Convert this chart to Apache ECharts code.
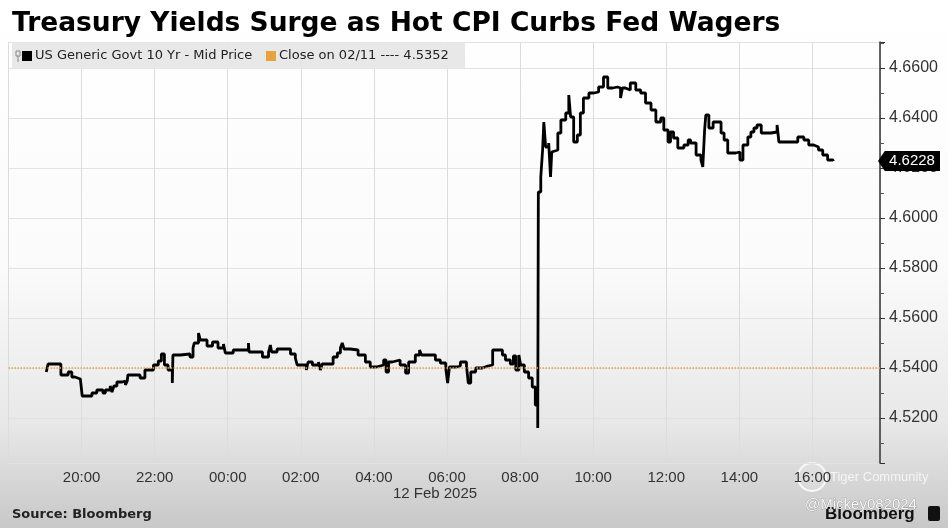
<!DOCTYPE html>
<html><head><meta charset="utf-8">
<script src="https://cdn.jsdelivr.net/npm/echarts@6/dist/echarts.min.js"></script>
<style>html,body{margin:0;padding:0;background:#fff;}#c{width:948px;height:528px;}</style>
</head><body><div id="c"></div>
<script>
// ---- data ----
const titleText = 'Treasury Yields Surge as Hot CPI Curbs Fed Wagers';
const seriesName = 'US Generic Govt 10 Yr - Mid Price';
const closeLabel = 'Close on 02/11 ---- 4.5352';
const closePrev = 4.5352;
const dateLabel = '12 Feb 2025';
const sourceText = 'Source: Bloomberg';
// times: evening of 11 Feb (>= 18:00) then 12 Feb
const times = ['19:02','19:05','19:26','19:38','19:44','19:49','19:58','20:01','20:17','20:25','20:35','20:39','20:47','20:50','20:53','20:58','21:07','21:12','21:15','21:16','21:36','21:44','21:58','22:06','22:11','22:16','22:22','22:29','22:30','22:42','22:58','23:03','23:05','23:12','23:15','23:26','23:35','23:44','23:53','23:56',
'00:09','00:34','00:35','00:57','01:07','01:10','01:12','01:21','01:43','01:51','01:54','02:09','02:12','02:19','02:29','02:32','02:35','02:53','03:00','03:05','03:08','03:11','03:21','03:34','03:46','03:54','04:04','04:16','04:20','04:24','04:30','04:43','04:52','04:57','05:08','05:15','05:18','05:41','05:49','05:58','06:01','06:04','06:16','06:22','06:32','06:35','06:39','06:47','06:58','07:07','07:15','07:31','07:36','07:44','07:49','07:53','07:58','08:01','08:07','08:14','08:20','08:25','08:29',
'08:30','08:34','08:37','08:39','08:42','08:47','08:50','08:52','08:55','09:02','09:07','09:15','09:20','09:23','09:28','09:34','09:39','09:44','09:53','10:01','10:09','10:17','10:24','10:32','10:40','10:45','10:48','10:53','11:01','11:10','11:18','11:26','11:35','11:43','11:51','11:56','12:03','12:07','12:12','12:19','12:29','12:36','12:40','12:49','12:57','13:00','13:03','13:05','13:10','13:17','13:30','13:35','13:41','13:54','14:01','14:06','14:14','14:19','14:24','14:29','14:36','14:52','15:02','15:05','15:36','15:46','15:54','16:02','16:10','16:17','16:25','16:34'];
const values = [4.5384,4.5416,4.5372,4.5384,4.5364,4.5356,4.5364,4.5288,4.5300,4.5312,4.5300,4.5312,4.5328,4.5304,4.5328,4.5344,4.5348,4.5332,4.5348,4.5372,4.5360,4.5392,4.5412,4.5428,4.5456,4.5412,4.5392,4.5340,4.5452,4.5456,4.5444,4.5480,4.5500,4.5540,4.5512,4.5488,4.5504,4.5480,4.5496,4.5460,
4.5472,4.5500,4.5464,4.5444,4.5464,4.5492,4.5464,4.5476,4.5456,4.5440,4.5412,4.5392,4.5424,4.5412,4.5424,4.5392,4.5416,4.5444,4.5460,4.5480,4.5500,4.5476,4.5472,4.5452,4.5424,4.5404,4.5412,4.5432,4.5384,4.5424,4.5432,4.5412,4.5380,4.5424,4.5452,4.5472,4.5452,4.5432,4.5420,4.5400,4.5340,4.5404,4.5408,4.5424,4.5408,4.5340,4.5384,4.5400,4.5408,4.5412,4.5472,4.5452,4.5432,4.5416,4.5448,4.5392,4.5452,4.5412,4.5384,4.5360,4.5324,4.5252,4.5160,
4.6104,4.6164,4.6272,4.6384,4.6284,4.6300,4.6164,4.6264,4.6272,4.6340,4.6392,4.6420,4.6492,4.6404,4.6304,4.6332,4.6420,4.6480,4.6500,4.6504,4.6524,4.6564,4.6520,4.6524,4.6520,4.6480,4.6520,4.6512,4.6540,4.6512,4.6500,4.6460,4.6432,4.6384,4.6400,4.6352,4.6304,4.6344,4.6320,4.6280,4.6292,4.6312,4.6300,4.6252,4.6232,4.6204,4.6352,4.6412,4.6360,4.6384,4.6340,4.6312,4.6260,4.6264,4.6232,4.6292,4.6324,4.6344,4.6360,4.6372,4.6340,4.6344,4.6372,4.6304,4.6324,4.6312,4.6292,4.6284,4.6272,4.6252,4.6232,4.6228];
// axis extents (minutes since 11 Feb 00:00 / yield)
const xMin = 1080, xMax = 2511, xStep = 120;
const yMin = 4.502, yMax = 4.6704, yStep = 0.02;

// ---- build ----
function toMin(t){const [h,m]=t.split(':').map(Number);return (h>=18?h:h+24)*60+m;}
const pts = times.map((t,i)=>[toMin(t), values[i]]);
const last = values[values.length-1];
function pad(n){return (n<10?'0':'')+n;}

const chart = echarts.init(document.getElementById('c'), null, {renderer:'canvas'});
chart.setOption({
  animation:false,
  backgroundColor:{type:'linear',x:0,y:0,x2:0,y2:1,colorStops:[
    {offset:0,color:'#ffffff'},{offset:0.5,color:'#fbfbfb'},{offset:0.8,color:'#e8e8e8'},{offset:1,color:'#c8c8c8'}]},
  title:{text:titleText,left:7,top:6,textStyle:{fontSize:26.5,fontWeight:'bold',fontFamily:'DejaVu Sans',color:'#000'}},
  grid:{left:8.5,right:68,top:42,bottom:65},
  xAxis:{type:'value',min:xMin,max:xMax,interval:xStep,
    axisLine:{show:false},axisTick:{show:false},
    splitLine:{show:true,lineStyle:{color:'#dcdcdc',width:1}},
    axisLabel:{color:'#333',fontSize:15,fontFamily:'Liberation Sans',margin:7,
      formatter:v=>{if(v%xStep!==0||v===xMin)return '';const m=v%1440;return pad(Math.floor(m/60))+':'+pad(m%60);}}},
  yAxis:{type:'value',position:'right',min:yMin,max:yMax,minInterval:yStep,maxInterval:yStep,splitNumber:8,scale:true,
    axisLine:{show:true,lineStyle:{color:'#333',width:1.5}},
    axisTick:{show:true,length:5,lineStyle:{color:'#333'}},
    minorTick:{show:true,splitNumber:2,length:4,lineStyle:{color:'#555'}},
    splitLine:{show:true,lineStyle:{color:'#e2e2e2',width:1}},
    axisLabel:{color:'#333',fontSize:16,fontFamily:'Liberation Sans',margin:9,
      formatter:v=>{const k=v/yStep;return Math.abs(k-Math.round(k))<1e-6?v.toFixed(4):'';}}},
  series:[{
    type:'line',name:seriesName,data:pts,step:'end',showSymbol:false,
    lineStyle:{color:'#000',width:2.8},
    markLine:{silent:true,symbol:['none','none'],label:{show:false},
      lineStyle:{color:'#e3a44c',type:'dotted',width:1.5},data:[{yAxis:closePrev}]},
    markPoint:{silent:true,symbol:'path://M0,10 L7,0 L64,0 L64,20 L7,20 Z',symbolSize:[62,20],symbolOffset:[29,0],symbolKeepAspect:false,
      itemStyle:{color:'#000'},
      label:{show:true,color:'#fff',fontSize:15,fontFamily:'Liberation Sans',formatter:last.toFixed(4),offset:[3,0]},
      data:[{coord:[xMax,last],value:last}]}
  }],
  graphic:[
    {type:'rect',z:50,shape:{x:12,y:42,width:453,height:27},style:{fill:'rgba(230,230,230,0.93)'}},
    {type:'rect',z:51,shape:{x:16,y:51,width:4,height:5},style:{fill:'none',stroke:'#888',lineWidth:1}},
    {type:'line',z:51,shape:{x1:18,y1:56,x2:18,y2:62},style:{stroke:'#888',lineWidth:1}},
    {type:'rect',z:51,shape:{x:22,y:51,width:10,height:10},style:{fill:'#000'}},
    {type:'text',z:51,x:35,y:56,style:{text:seriesName,fill:'#222',fontSize:13,fontFamily:'DejaVu Sans',verticalAlign:'middle'}},
    {type:'rect',z:51,shape:{x:266,y:51,width:10,height:10},style:{fill:'#e8a33c'}},
    {type:'text',z:51,x:279,y:56,style:{text:closeLabel,fill:'#222',fontSize:13,fontFamily:'DejaVu Sans',verticalAlign:'middle'}},
    {type:'text',x:435,y:494,style:{text:dateLabel,fill:'#333',fontSize:15,fontFamily:'Liberation Sans',align:'center',verticalAlign:'middle'}},
    {type:'text',x:12,y:515,style:{text:sourceText,fill:'#222',fontSize:13,fontWeight:'bold',fontFamily:'DejaVu Sans',verticalAlign:'middle'}},
    {type:'text',x:825,y:514,style:{text:'Bloomberg',fill:'#111',fontSize:17,fontWeight:'bold',fontFamily:'Liberation Sans',verticalAlign:'middle'}},
    {type:'rect',shape:{x:928,y:506,width:12,height:15,r:2},style:{fill:'#111'}},
    {type:'circle',shape:{cx:812,cy:477,r:14},style:{fill:'rgba(255,255,255,0.15)',stroke:'rgba(255,255,255,0.85)',lineWidth:2}},
    {type:'text',x:830,y:477,style:{text:'Tiger Community',fill:'rgba(255,255,255,0.75)',fontSize:13,fontFamily:'Liberation Sans',verticalAlign:'middle'}},
    {type:'text',x:805,y:505,style:{text:'@Mickey082024',fill:'rgba(255,255,255,0.9)',stroke:'rgba(90,90,90,0.6)',lineWidth:0.6,fontSize:15,fontFamily:'Liberation Sans',verticalAlign:'middle'}}
  ]
});
</script></body></html>
